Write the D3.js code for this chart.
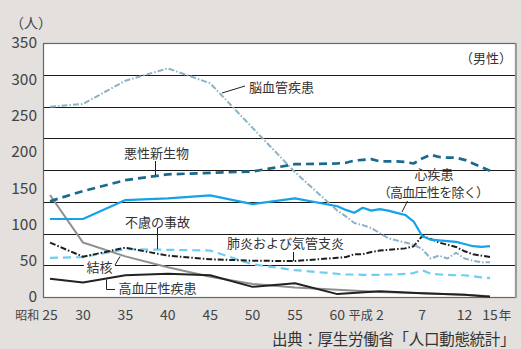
<!DOCTYPE html>
<html><head><meta charset="utf-8">
<script src="https://cdn.jsdelivr.net/npm/d3@7"></script>
<style>
html,body{margin:0;padding:0;background:#e3e0dd;}
svg{display:block;}
text{font-family:"Noto Sans CJK JP","Noto Sans",sans-serif;fill:#333;}
</style></head>
<body>
<svg id="chart" width="521" height="349"></svg>
<script>
// ---- data (male death rates, per 100,000) ----
const yearsFive = [1950,1955,1960,1965,1970,1975,1980,1985,1990,1995,2000,2003];
const yearsAnnual = [1950,1955,1960,1965,1970,1975,1980,1985,1986,1987,1988,1989,1990,1991,1992,1993,1994,1995,1996,1997,1998,1999,2000,2001,2002,2003];

const cerebro   = [262,266,298,315,294.5,233,172,119,111,102,99,95,88,81,78,75,72,66,53,57,53,61,53,50,48,48];
const cancer    = [132,146,161,169,171,173,183,184,185,188,189,190,187,187,187,186,184,191,196,193,192,192,189,184,179,174];
const heart     = [107.5,107.5,133.5,136,140,128,136,125,120,116,123,119,121,119,116,113,104,84,79,78,77,76,73,70,69,70];
const pneumonia = [75,55.5,68,57,52,50,49.5,54,55,59,59,62,64,65,66,67,70,84,80,75,72,69,63,59,57,55];
const accident  = [54,55,66,65,64,45,37,32,31,31,30.5,30.5,30.5,31,31,32,33,37,32,31,30.5,30,30,28.5,27,26];
const tuberculosis = [140.5,75,56,41,28,18,13,10,7,5,3,1];
const hypertension = [25,20,30,32,30,14,19,4,8,5,3,0.5];

const yTicks = [0,50,100,150,200,250,300,350];
const xTickYears = [1950,1955,1960,1965,1970,1975,1980,1985,1990,1995,2000,2003];
const xTickNumbers = ["25","30","35","40","45","50","55","60","2","7","12","15"];
const xTickPrefix  = ["昭和","","","","","","","","平成","","",""];
const xTickSuffix  = ["","","","","","","","","","","","年"];

// ---- layout ----
const svg = d3.select("#chart");
const L = 43, R = 516, T = 43, B = 297;

const x = d3.scaleLinear().domain([1950,1955,2003]).range([50,83,490]);
const y = d3.scaleLinear().domain([0,350]).range([B,T]);

svg.append("rect").attr("width",521).attr("height",349).attr("fill","#e3e0dd");
svg.append("rect").attr("x",L).attr("y",T).attr("width",R-L).attr("height",B-T).attr("fill","#fff");

// grid lines (8 equal bands)
const gridVals = d3.range(1,8).map(i => 350*i/8);
svg.append("g").selectAll("line").data(gridVals).join("line")
  .attr("x1",L).attr("x2",R)
  .attr("y1",d=>Math.round(y(d))+0.5).attr("y2",d=>Math.round(y(d))+0.5)
  .attr("stroke","#1a1a1a").attr("stroke-width",1.1);

// frame
svg.append("rect").attr("x",L+0.5).attr("y",T+0.5).attr("width",R-L-1).attr("height",B-T)
  .attr("fill","none").attr("stroke","#666").attr("stroke-width",1.2);
svg.append("line").attr("x1",R).attr("x2",R).attr("y1",T).attr("y2",B+1)
  .attr("stroke","#999").attr("stroke-width",2);

// y axis labels
svg.append("g").selectAll("text").data(yTicks).join("text")
  .attr("x",37).attr("y",d=>y(d)).attr("dy","0.35em")
  .attr("text-anchor","end").attr("font-size",15.5).style("fill","#444")
  .text(d=>d);

svg.append("text").attr("x",10).attr("y",28).attr("font-size",14).style("fill","#444").text("（人）");

// x axis labels
const xt = svg.append("g");
xTickYears.forEach((yr,i)=>{
  const cx = x(yr);
  const num = xt.append("text").attr("x",cx).attr("y",319.5).attr("text-anchor","middle")
    .attr("font-size",14).style("fill","#444").text(xTickNumbers[i]);
  const w = num.node().getComputedTextLength();
  if (xTickPrefix[i]) xt.append("text").attr("x",cx-w/2-3).attr("y",319.5).attr("text-anchor","end")
    .attr("font-size",12).style("fill","#444").text(xTickPrefix[i]);
  if (xTickSuffix[i]) xt.append("text").attr("x",cx+w/2+1).attr("y",319.5).attr("text-anchor","start")
    .attr("font-size",12.5).style("fill","#444").text(xTickSuffix[i]);
});

// ---- series ----
const series = [
  {name:"結核", years:yearsFive, values:tuberculosis, color:"#8f8f8f", w:2, dash:null},
  {name:"高血圧性疾患", years:yearsFive, values:hypertension, color:"#222", w:2, dash:null},
  {name:"不慮の事故", years:yearsAnnual, values:accident, color:"#6dcdf3", w:2.2, dash:"8,5"},
  {name:"肺炎および気管支炎", years:yearsAnnual, values:pneumonia, color:"#1e1e1e", w:2, dash:"6,2,1.5,2"},
  {name:"脳血管疾患", years:yearsAnnual, values:cerebro, color:"#8cb2c5", w:2, dash:"6,2,1.5,2"},
  {name:"心疾患", years:yearsAnnual, values:heart, color:"#14a2e8", w:2.2, dash:null},
  {name:"悪性新生物", years:yearsAnnual, values:cancer, color:"#1b6a8e", w:2.7, dash:"8,5"}
];
const line = d3.line().x(d=>x(d[0])).y(d=>y(d[1]));
svg.append("g").selectAll("path").data(series).join("path")
  .attr("d",s=>line(s.years.map((yr,i)=>[yr,s.values[i]])))
  .attr("fill","none").attr("stroke",s=>s.color).attr("stroke-width",s=>s.w)
  .attr("stroke-dasharray",s=>s.dash).attr("stroke-linejoin","round");

// ---- annotations ----
const ann = svg.append("g");
function leader(pts){
  ann.append("path").attr("d",d3.line()(pts)).attr("fill","none").attr("stroke","#222").attr("stroke-width",1);
}
function label(t,xx,yy,anchor,opts={}){
  const el = ann.append("text").attr("x",xx).attr("y",yy).attr("text-anchor",anchor||"start")
    .attr("font-size",opts.size||13).style("fill","#333").text(t);
  if (opts.ls) el.attr("letter-spacing",opts.ls);
  return el;
}
// 脳血管疾患
leader([[222,93],[245,86]]);
label("脳血管疾患",249,92);
// 悪性新生物
leader([[155.5,161],[155.5,175]]);
label("悪性新生物",156.5,158,"middle");
// 心疾患
label("心疾患",434,178.5,"middle");
label("（高血圧性を除く）",433,197,"middle",{ls:-0.7});
leader([[402,212],[407.5,201]]);
// 不慮の事故
leader([[157.5,228],[157.5,249]]);
label("不慮の事故",157.5,226.5,"middle");
// 肺炎および気管支炎
leader([[293.5,252],[293.5,261]]);
label("肺炎および気管支炎",285.5,247.5,"middle");
// 結核 (white backing)
ann.append("rect").attr("x",84).attr("y",259).attr("width",31).attr("height",16).attr("fill","#fff");
label("結核",99.5,272,"middle");
leader([[115,265],[120,256.5]]);
// 高血圧性疾患
leader([[106.5,279.5],[106.5,289.5],[115,289.5]]);
label("高血圧性疾患",157.5,293,"middle");

// gender note and source
svg.append("text").attr("x",512).attr("y",62.5).attr("text-anchor","end").attr("font-size",13).style("fill","#333").text("（男性）");
svg.append("text").attr("x",272).attr("y",344.5).attr("font-size",15.5).attr("letter-spacing",-0.3).style("fill","#333").text("出典：厚生労働省「人口動態統計」");
</script>
</body></html>
